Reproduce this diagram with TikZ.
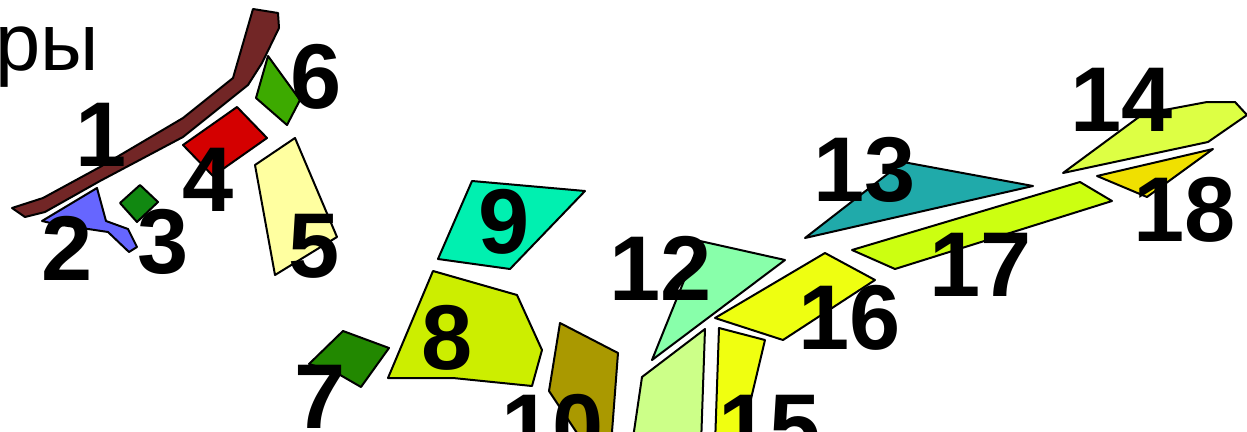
\documentclass[tikz,border=0pt]{standalone}
\usepackage{fontspec}
\setmainfont{Liberation Sans}
\definecolor{c1}{RGB}{114,38,38}
\definecolor{c2}{RGB}{102,102,255}
\definecolor{c3}{RGB}{17,136,17}
\definecolor{c4}{RGB}{212,0,0}
\definecolor{c5}{RGB}{255,255,160}
\definecolor{c6}{RGB}{61,170,0}
\definecolor{c7}{RGB}{34,136,0}
\definecolor{c8}{RGB}{204,238,0}
\definecolor{c9}{RGB}{0,240,176}
\definecolor{c10}{RGB}{170,153,0}
\definecolor{c11}{RGB}{204,255,136}
\definecolor{c12}{RGB}{136,255,170}
\definecolor{c13}{RGB}{32,170,170}
\definecolor{c14}{RGB}{221,255,68}
\definecolor{c15}{RGB}{240,255,16}
\definecolor{c16}{RGB}{238,255,17}
\definecolor{c17}{RGB}{204,255,17}
\definecolor{c18}{RGB}{240,224,0}
\tikzset{
  piece/.style={draw=black, line width=1.5pt, line join=round},
  num/.style={font=\fontsize{69}{69}\selectfont\bfseries, inner sep=0pt, text=black},
  word/.style={font=\fontsize{61}{61}\selectfont, inner sep=0pt, text=black}
}
\begin{document}
\begin{tikzpicture}[x=0.75pt,y=-0.75pt]
\useasboundingbox (0,0) rectangle (1247,432);
\clip (0,0) rectangle (1247,432);
\fill[white] (0,0) rectangle (1247,432);
% shapes
\filldraw[piece, fill=c1] (12,208) -- (43,198) -- (100,167) -- (183,118) -- (233,78) -- (253,9) -- (278,13) -- (279,28) -- (262,63) -- (248,85) -- (183,137) -- (100,181) -- (45,212) -- (25,217) -- cycle;
\filldraw[piece, fill=c2] (42,221) -- (97,188) -- (106,221) -- (128,229) -- (137,247) -- (129,252) -- (108,232) -- (55,224) -- cycle;
\filldraw[piece, fill=c3] (120,203) -- (140,185) -- (158,202) -- (137,222) -- cycle;
\filldraw[piece, fill=c4] (183,145) -- (237,107) -- (267,138) -- (213,176) -- cycle;
\filldraw[piece, fill=c5] (255,165) -- (295,138) -- (337,237) -- (275,275) -- cycle;
\filldraw[piece, fill=c6] (268,56) -- (300,100) -- (287,125) -- (256,98) -- cycle;
\filldraw[piece, fill=c9] (472,181) -- (585,191) -- (510,269) -- (438,259) -- cycle;
\filldraw[piece, fill=c8] (433,271) -- (517,295) -- (542,350) -- (532,386) -- (453,378) -- (388,378) -- cycle;
\filldraw[piece, fill=c7] (309,364) -- (343,331) -- (389,348) -- (361,387) -- (335,372) -- cycle;
\filldraw[piece, fill=c10] (560,323) -- (618,353) -- (611,445) -- (585,445) -- (549,391) -- cycle;
\filldraw[piece, fill=c11] (642,377) -- (705,329) -- (701,445) -- (632,445) -- cycle;
\filldraw[piece, fill=c15] (719,328) -- (765,340) -- (740,445) -- (715,445) -- cycle;
\filldraw[piece, fill=c12] (700,241) -- (785,260) -- (652,360) -- cycle;
\filldraw[piece, fill=c16] (715,318) -- (825,253) -- (875,280) -- (783,340) -- cycle;
\filldraw[piece, fill=c13] (903,162) -- (1033,186) -- (805,238) -- cycle;
\filldraw[piece, fill=c17] (852,250) -- (1080,182) -- (1112,201) -- (895,269) -- cycle;
\filldraw[piece, fill=c14] (1063,173) -- (1143,114) -- (1207,102) -- (1235,102) -- (1247,115) -- (1208,142) -- cycle;
\filldraw[piece, fill=c18] (1097,176) -- (1213,149) -- (1147,197) -- cycle;
% labels
\node[word, anchor=base east] (w) at (99,70) {ры};
\node[num] (n1) at (101,135) {1};
\node[num] (n2) at (67,248) {2};
\node[num] (n3) at (163,242) {3};
\node[num] (n4) at (208,180) {4};
\node[num] (n5) at (314,246) {5};
\node[num] (n6) at (316,77) {6};
\node[num] (n7) at (320,397) {7};
\node[num] (n8) at (447,338) {8};
\node[num] (n9) at (504,222) {9};
\node[num] (n10) at (553,427) {10};
\node[num] (n12) at (661,268) {12};
\node[num] (n13) at (865,170) {13};
\node[num] (n14) at (1122,100) {14};
\node[num] (n15) at (770,427) {15};
\node[num] (n16) at (850,318) {16};
\node[num] (n17) at (981,265) {17};
\node[num] (n18) at (1185,210) {18};
\end{tikzpicture}
\end{document}
